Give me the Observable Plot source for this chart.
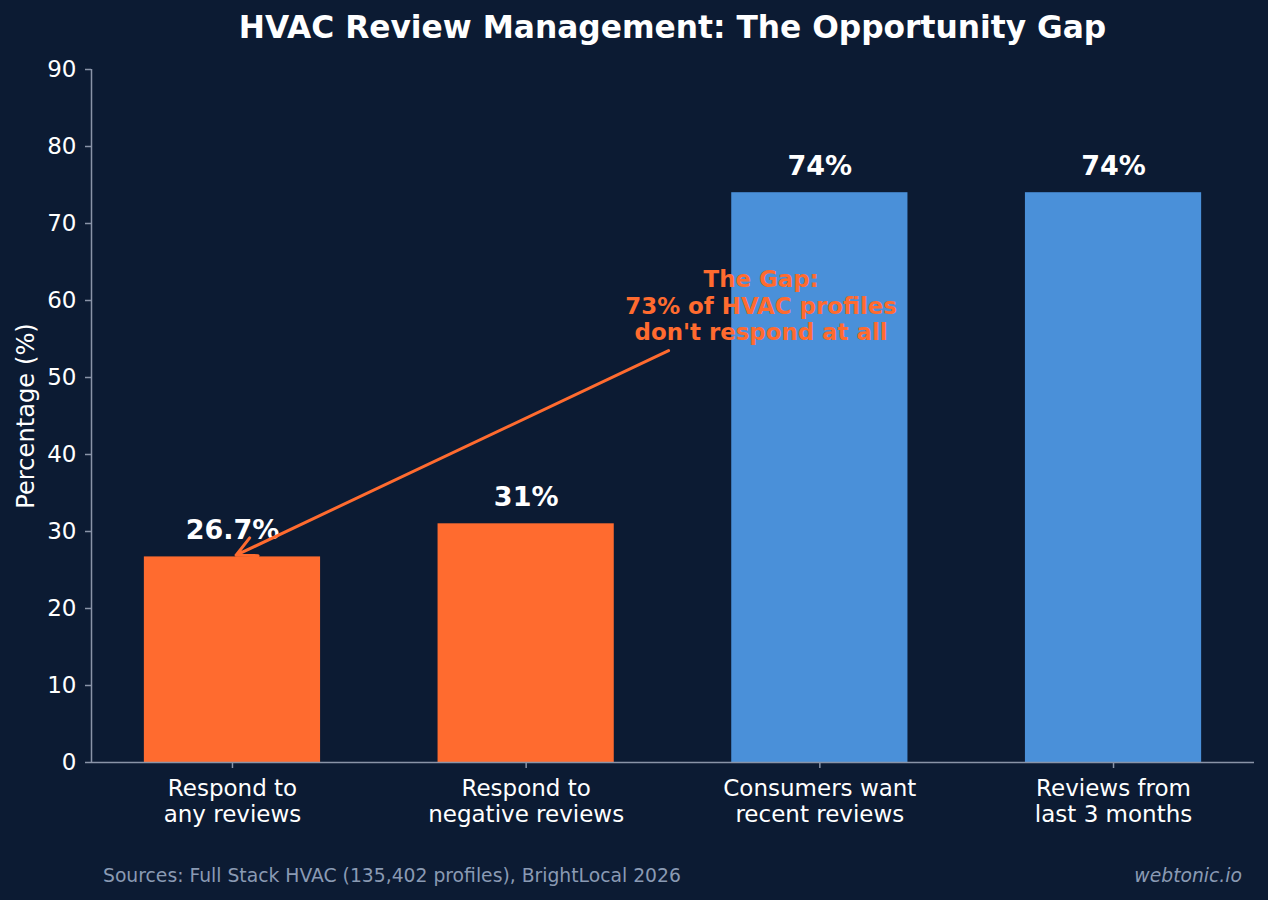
<!DOCTYPE html>
<html>
<head>
<meta charset="utf-8">
<script src="https://cdn.jsdelivr.net/npm/d3@7"></script>
<script src="https://cdn.jsdelivr.net/npm/@observablehq/plot@0.6"></script>
<style>
  html, body { margin: 0; padding: 0; background: #0c1b33; }
  #wrap { width: 1268px; height: 900px; background: #0c1b33; font-family: "DejaVu Sans", sans-serif; overflow: hidden; }
  #title { height: 50px; line-height: 54px; padding: 0 14px 0 91px; text-align: center; color: #ffffff; font-weight: bold; font-size: 31.3px; white-space: nowrap; }
  #chart svg { display: block; }
  #footer { position: relative; height: 50px; font-size: 18.75px; color: #8a9ab3; }
  #footer .src { position: absolute; left: 103px; top: 0; line-height: 51px; white-space: nowrap; }
  #footer .brand { position: absolute; right: 26px; top: 0; line-height: 51px; font-style: italic; }
</style>
</head>
<body>
<div id="wrap">
  <div id="title">HVAC Review Management: The Opportunity Gap</div>
  <div id="chart"></div>
  <div id="footer">
    <span class="src">Sources: Full Stack HVAC (135,402 profiles), BrightLocal 2026</span>
    <span class="brand">webtonic.io</span>
  </div>
</div>
<script>
// Categories and their percentages
const categories = [
  "Respond to\nany reviews",
  "Respond to\nnegative reviews",
  "Consumers want\nrecent reviews",
  "Reviews from\nlast 3 months"
];
const values = [26.7, 31, 74, 74];
const groups = ["Business behaviour", "Business behaviour", "Consumer expectation", "Consumer expectation"];
const yTicks = [0, 10, 20, 30, 40, 50, 60, 70, 80, 90];

// Callout text and its anchor (in data units), plus the arrow pointing at the first bar
const gapNote = "The Gap:\n73% of HVAC profiles\ndon't respond at all";
const notePosition = [1.8, 59.4];
const arrowStart = [1.485, 53.5];
const arrowTarget = [0, values[0]];

const orange = "#ff6b2f";
const blue = "#4a90d9";
const axisColor = "#8a94a8";
const xDomain = [-0.48, 3.48];
const barHalf = 0.3;

const rows = categories.map((c, i) => ({ i, label: c, value: values[i], group: groups[i] }));

const chart = Plot.plot({
  width: 1268,
  height: 800,
  marginTop: 19,
  marginBottom: 88,
  marginLeft: 91,
  marginRight: 14,
  style: { fontFamily: '"DejaVu Sans", sans-serif', background: "transparent", color: "#ffffff", overflow: "visible" },
  x: { type: "linear", domain: xDomain },
  y: { domain: [0, 90] },
  color: { domain: [...new Set(groups)], range: [orange, blue] },
  marks: [
    Plot.rectY(rows, { x1: d => d.i - barHalf, x2: d => d.i + barHalf, y1: 0, y2: "value", fill: "group" }),
    // left spine and baseline
    Plot.ruleX([xDomain[0]], { stroke: axisColor, strokeWidth: 1.5 }),
    Plot.ruleY([0], { stroke: axisColor, strokeWidth: 1.5 }),
    Plot.axisY({
      ticks: yTicks, tickSize: 6, tickPadding: 9, fontSize: 23,
      stroke: axisColor, strokeWidth: 1.5, fill: "#ffffff", label: null
    }),
    Plot.axisX({
      ticks: rows.map(d => d.i), tickFormat: i => categories[i],
      tickSize: 6, tickPadding: 9, fontSize: 23, lineHeight: 1.13,
      stroke: axisColor, strokeWidth: 1.5, fill: "#ffffff", label: null
    }),
    Plot.text(["Percentage (%)"], {
      frameAnchor: "left", rotate: -90, dx: -75, lineAnchor: "top", textAnchor: "middle",
      fontSize: 24.2, fill: "#ffffff"
    }),
    // value labels above bars
    Plot.text(rows, {
      x: "i", y: "value", text: d => `${d.value}%`, lineAnchor: "bottom", dy: -17.5,
      fill: "#ffffff", fontSize: 27, fontWeight: "bold"
    }),
    // callout arrow and text
    Plot.arrow([{ x1: arrowStart[0], y1: arrowStart[1], x2: arrowTarget[0], y2: arrowTarget[1] }], {
      x1: "x1", y1: "y1", x2: "x2", y2: "y2",
      stroke: orange, strokeWidth: 3, headLength: 11, headAngle: 53, insetEnd: 4
    }),
    Plot.text([gapNote], {
      x: () => notePosition[0], y: () => notePosition[1], text: d => d,
      lineAnchor: "middle", lineHeight: 1.165,
      fill: orange, fontSize: 22.9, fontWeight: "bold"
    })
  ]
});

document.getElementById("chart").appendChild(chart);
</script>
</body>
</html>
